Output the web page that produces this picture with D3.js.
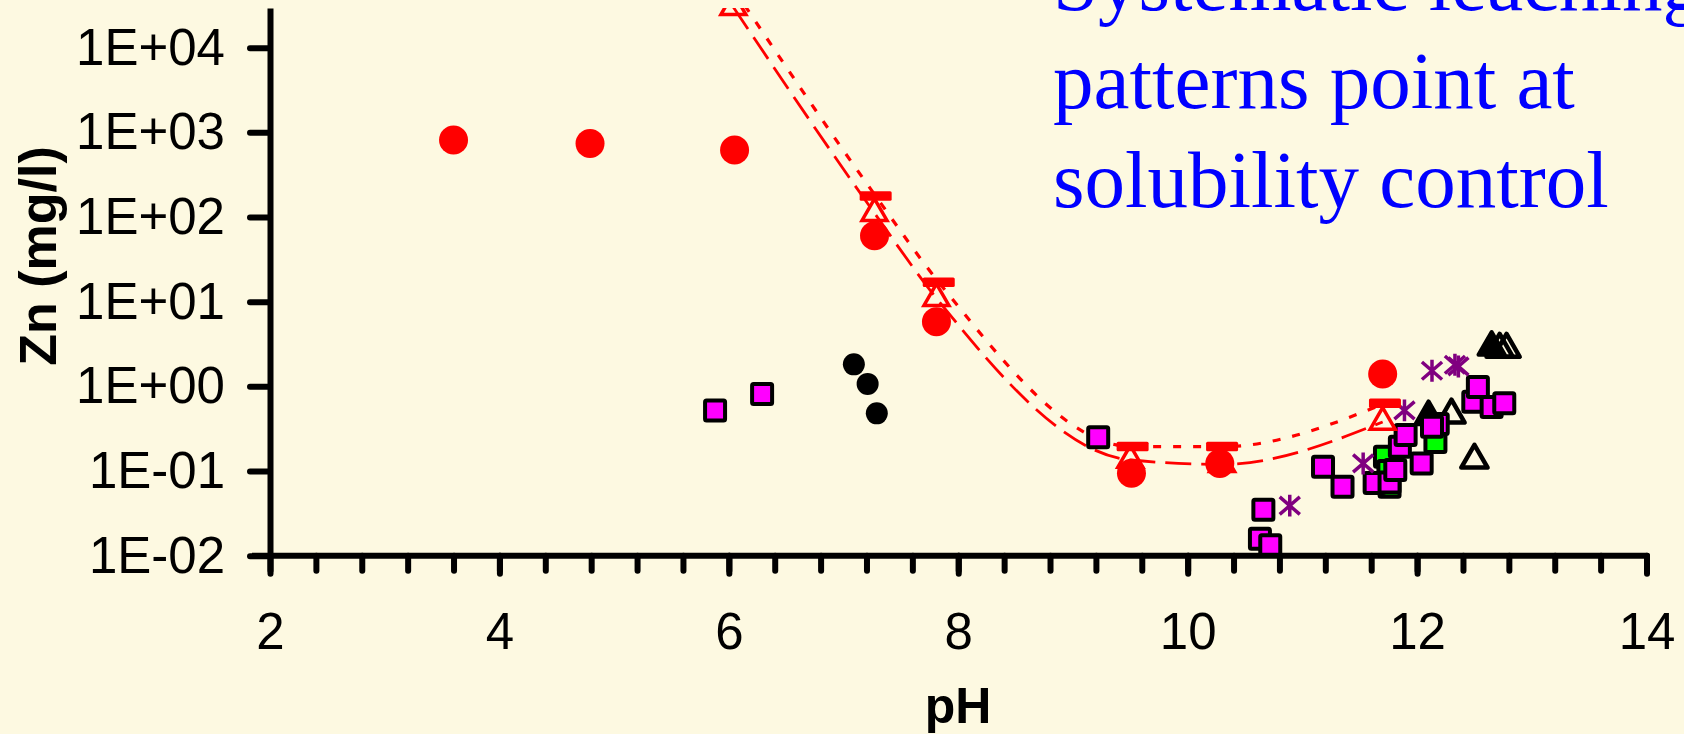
<!DOCTYPE html>
<html>
<head>
<meta charset="utf-8">
<script src="https://cdn.jsdelivr.net/npm/d3@7"></script>
<style>
  html, body { margin: 0; padding: 0; background: #fdf9e1; }
  svg { display: block; }
</style>
</head>
<body>
<svg width="1684" height="734"></svg>
<script>
// values, [pH, Zn in mg/l]
const redCircles = [[3.60, 810], [4.79, 740], [6.05, 620], [7.27, 60], [7.81, 5.8], [9.51, 0.094], [10.28, 0.123], [11.70, 1.40]];
const redTriangles = [[6.04, 30000], [7.27, 111], [7.81, 11], [9.50, 0.135], [10.30, 0.12], [11.70, 0.38]];
const redBars = [[6.04, 50000], [7.28, 177], [7.83, 17], [9.52, 0.194], [10.30, 0.194], [11.72, 0.63]];
const blackCircles = [[7.09, 1.82], [7.21, 1.07], [7.29, 0.48]];
const blackTriangles = [[12.30, 0.46], [12.50, 0.135], [12.72, 2.75], [12.78, 2.75]];
const blackSolidTriangles = [[12.10, 0.44], [12.65, 2.9]];
const greenSquares = [[11.72, 0.147], [11.75, 0.10], [11.76, 0.065], [12.16, 0.22]];
const magentaSquares = [[5.88, 0.52], [6.29, 0.81], [9.22, 0.25], [10.66, 0.035], [10.63, 0.0159], [10.72, 0.0133],
  [11.18, 0.112], [11.35, 0.065], [11.63, 0.072], [11.76, 0.073], [11.81, 0.103], [11.85, 0.194], [11.90, 0.267],
  [12.04, 0.123], [12.18, 0.36], [12.13, 0.334], [12.49, 0.66], [12.53, 0.98], [12.65, 0.57], [12.76, 0.63]];
const purpleStars = [[10.89, 0.039], [11.53, 0.123], [11.89, 0.52], [12.13, 1.53], [12.33, 1.80], [12.36, 1.72]];

const xLabels = [2, 4, 6, 8, 10, 12, 14];
const xMinor = d3.range(2, 14.01, 0.4);
const yLabels = [1e-2, 1e-1, 1e0, 1e1, 1e2, 1e3, 1e4];

const noteLines = ['Systematic leaching', 'patterns point at', 'solubility control'];

const svg = d3.select('svg');
const font = '"Liberation Sans", Arial, sans-serif';

const x = d3.scaleLinear().domain([2, 14]).range([270, 1646.5]);
// top of the axis sits a little above 1E+04
const y = d3.scaleLog().domain([1e-2, Math.pow(10, 4.469)]).range([555.7, 8]);

svg.append('defs').append('clipPath').attr('id', 'plot')
  .append('rect').attr('x', 0).attr('y', 8).attr('width', 1684).attr('height', 726);

// Note text
svg.append('text')
    .attr('fill', '#0000ff')
    .attr('font-family', '"Liberation Serif", "Times New Roman", serif')
    .attr('font-size', 81)
  .selectAll('tspan').data(noteLines).join('tspan')
    .attr('x', 1053)
    .attr('y', (d, i) => 10 + i * 98.3)
    .text(d => d);

const chart = svg.append('g').attr('clip-path', 'url(#plot)');

// Red model lines
const line = d3.line().x(d => x(d[0])).y(d => y(d[1])).curve(d3.curveMonotoneX);
chart.append('path').datum(redTriangles)
    .attr('d', line).attr('fill', 'none').attr('stroke', '#ff0000')
    .attr('stroke-width', 2.8).attr('stroke-dasharray', '26,10');
chart.append('path').datum(redBars)
    .attr('d', line).attr('fill', 'none').attr('stroke', '#ff0000')
    .attr('stroke-width', 3.2).attr('stroke-dasharray', '8,12');

// symbols
const tri = d3.symbol().type(d3.symbolTriangle);
const star = {
  draw(ctx, size) {
    const r = Math.sqrt(size) / 2;
    const a = r * 0.92, b = r * 0.8;
    ctx.moveTo(0, -r); ctx.lineTo(0, r);
    ctx.moveTo(-a, -b); ctx.lineTo(a, b);
    ctx.moveTo(a, -b); ctx.lineTo(-a, b);
  }
};

// Black circles
chart.append('g').selectAll('circle').data(blackCircles).join('circle')
    .attr('cx', d => x(d[0])).attr('cy', d => y(d[1])).attr('r', 11)
    .attr('fill', '#000');

// Black triangles
chart.append('g').selectAll('path').data(blackSolidTriangles).join('path')
    .attr('transform', d => `translate(${x(d[0])},${y(d[1])})`)
    .attr('d', tri.size(300)()).attr('fill', '#000')
    .attr('stroke', '#000').attr('stroke-width', 4).attr('stroke-linejoin', 'round');
chart.append('g').selectAll('path').data(blackTriangles).join('path')
    .attr('transform', d => `translate(${x(d[0])},${y(d[1])})`)
    .attr('d', tri.size(300)()).attr('fill', 'none')
    .attr('stroke', '#000').attr('stroke-width', 4.5).attr('stroke-linejoin', 'round');

// Squares
const square = (g, data, fill) => g.selectAll('rect').data(data).join('rect')
    .attr('x', d => x(d[0]) - 10).attr('y', d => y(d[1]) - 10)
    .attr('width', 20).attr('height', 20).attr('rx', 1.5)
    .attr('fill', fill).attr('stroke', '#000').attr('stroke-width', 4);
square(chart.append('g'), greenSquares, '#00ff00');
square(chart.append('g'), magentaSquares, '#ff00ff');

// Purple stars
chart.append('g').selectAll('path').data(purpleStars).join('path')
    .attr('transform', d => `translate(${x(d[0])},${y(d[1])})`)
    .attr('d', d3.symbol().type(star).size(480)())
    .attr('fill', 'none').attr('stroke', '#800080').attr('stroke-width', 3.5);

// Red series
chart.append('g').selectAll('path').data(redTriangles).join('path')
    .attr('transform', d => `translate(${x(d[0])},${y(d[1])})`)
    .attr('d', tri.size(270)()).attr('fill', 'none')
    .attr('stroke', '#ff0000').attr('stroke-width', 3.5);
chart.append('g').selectAll('rect').data(redBars).join('rect')
    .attr('x', d => x(d[0]) - 16).attr('y', d => y(d[1]) - 4.8)
    .attr('width', 32).attr('height', 9.5).attr('rx', 1.5)
    .attr('fill', '#ff0000');
chart.append('g').selectAll('circle').data(redCircles).join('circle')
    .attr('cx', d => x(d[0])).attr('cy', d => y(d[1])).attr('r', 14.5)
    .attr('fill', '#ff0000');

// Axes
const yAxis = svg.append('g').attr('transform', 'translate(270,0)')
    .call(d3.axisLeft(y).tickValues(yLabels).tickSize(20).tickSizeOuter(0).tickPadding(25)
      .tickFormat(d => {
        const e = Math.round(Math.log10(d));
        return '1E' + (e < 0 ? '-' : '+') + String(Math.abs(e)).padStart(2, '0');
      }));

const xMinorAxis = svg.append('g').attr('transform', 'translate(0,555.7)')
    .call(d3.axisBottom(x).tickValues(xMinor).tickSize(15).tickSizeOuter(0).tickFormat(''));
const xAxis = svg.append('g').attr('transform', 'translate(0,555.7)')
    .call(d3.axisBottom(x).tickValues(xLabels).tickSize(18).tickSizeOuter(0).tickPadding(39).tickFormat(d3.format('d')));

[yAxis, xMinorAxis, xAxis].forEach(a => {
  a.selectAll('.domain').attr('stroke', '#000').attr('stroke-width', 6);
  a.selectAll('.tick line').attr('stroke', '#000').attr('stroke-width', 6).attr('stroke-linecap', 'round');
  a.selectAll('.tick text').attr('fill', '#000').attr('font-family', font).attr('font-size', 51);
});
xMinorAxis.select('.domain').remove();
xAxis.select('.domain').attr('d', 'M252,0H1646.5');

// Axis titles
svg.append('text')
    .attr('x', 958).attr('y', 723)
    .attr('text-anchor', 'middle')
    .attr('font-family', font).attr('font-weight', 'bold').attr('font-size', 50)
    .text('pH');
svg.append('text')
    .attr('transform', 'translate(56,256) rotate(-90)')
    .attr('text-anchor', 'middle')
    .attr('font-family', font).attr('font-weight', 'bold').attr('font-size', 52)
    .text('Zn (mg/l)');
</script>
</body>
</html>
